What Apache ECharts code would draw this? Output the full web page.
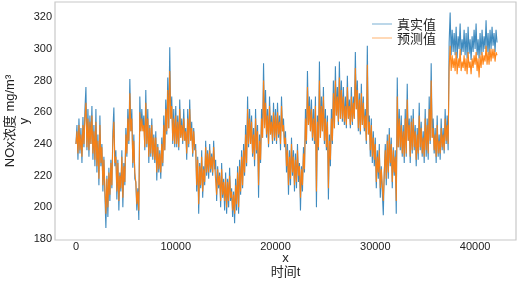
<!DOCTYPE html>
<html>
<head>
<meta charset="utf-8">
<script src="https://cdn.jsdelivr.net/npm/echarts@6/dist/echarts.min.js"></script>
<style>
  html, body { margin: 0; padding: 0; background: #fff; }
  #chart { width: 519px; height: 282px; }
</style>
</head>
<body>
<div id="chart"></div>
<script>
// sampled every 100 steps of time t
var step = 100;

var trueVals = [
  240, 252, 230, 256, 234, 250, 228, 257, 238, 262,
  276, 236, 262, 232, 258, 240, 264, 230, 252, 226,
  262, 222, 246, 214, 258, 226, 240, 210, 232, 208,
  187, 220, 194, 225, 204, 230, 212, 248, 263, 226,
  236, 205, 230, 198, 222, 210, 236, 200, 228, 214,
  250, 232, 262, 240, 281, 248, 262, 225, 246, 218,
  216, 198, 212, 192, 270, 248, 262, 250, 258, 236,
  274, 238, 262, 228, 252, 232, 256, 230, 246, 228,
  248, 217, 240, 222, 236, 218, 244, 226, 258, 236,
  268, 246, 282, 250, 301, 256, 270, 240, 262, 238,
  264, 238, 258, 236, 268, 244, 256, 240, 262, 242,
  250, 230, 262, 238, 268, 242, 254, 232, 250, 236,
  240, 210, 232, 196, 228, 212, 236, 206, 226, 214,
  242, 220, 236, 218, 240, 222, 234, 220, 242, 224,
  230, 204, 226, 212, 222, 200, 228, 206, 218, 198,
  222, 196, 218, 200, 225, 204, 212, 194, 210, 190,
  218, 198, 226, 196, 230, 208, 236, 212, 240, 220,
  252, 226, 270, 238, 262, 240, 258, 232, 250, 226,
  262, 234, 252, 206, 246, 228, 262, 244, 291, 252,
  274, 244, 262, 238, 270, 246, 258, 240, 266, 242,
  262, 240, 266, 244, 258, 236, 270, 248, 256, 238,
  248, 222, 240, 208, 236, 214, 244, 220, 236, 210,
  234, 212, 240, 216, 228, 198, 226, 210, 238, 222,
  262, 240, 286, 252, 270, 248, 268, 242, 262, 240,
  270, 200, 258, 236, 292, 244, 270, 248, 276, 240,
  262, 236, 258, 205, 246, 226, 262, 240, 280, 250,
  289, 258, 276, 252, 292, 256, 280, 254, 276, 252,
  270, 250, 283, 256, 268, 250, 276, 252, 270, 256,
  298, 262, 280, 248, 272, 246, 278, 252, 270, 248,
  262, 240, 302, 246, 258, 232, 256, 228, 248, 226,
  244, 212, 236, 218, 240, 206, 226, 210, 195, 222,
  240, 214, 246, 218, 250, 226, 244, 212, 238, 220,
  236, 196, 282, 238, 262, 236, 258, 232, 252, 228,
  262, 232, 278, 242, 256, 228, 258, 234, 262, 236,
  252, 226, 250, 230, 266, 236, 254, 232, 248, 228,
  262, 232, 256, 230, 270, 240, 291, 244, 256, 234,
  250, 228, 258, 232, 246, 230, 256, 236, 250, 234,
  262, 240, 258, 236, 304, 323, 296, 312, 298, 310,
  296, 314, 294, 308, 300, 316, 296, 306, 298, 312,
  296, 310, 294, 314, 297, 306, 293, 308, 298, 312,
  300, 316, 296, 306, 294, 310, 296, 312, 298, 308,
  300, 318, 298, 310, 296, 312, 300, 314, 302, 310,
  298, 312, 304
];

var predVals = [
  240, 248, 234, 252, 236, 246, 232, 252, 240, 256,
  266, 238, 256, 236, 254, 240, 258, 234, 248, 230,
  254, 226, 242, 218, 252, 228, 238, 214, 230, 212,
  196, 218, 200, 222, 208, 228, 214, 242, 254, 228,
  232, 210, 228, 204, 220, 212, 232, 206, 226, 216,
  246, 234, 256, 242, 272, 248, 256, 228, 242, 222,
  216, 202, 210, 198, 260, 248, 256, 248, 252, 238,
  266, 240, 256, 232, 250, 234, 252, 232, 244, 230,
  244, 222, 238, 224, 234, 222, 240, 228, 252, 236,
  262, 248, 274, 250, 286, 256, 264, 242, 256, 240,
  258, 240, 254, 238, 262, 244, 252, 242, 256, 242,
  248, 234, 256, 240, 262, 242, 250, 234, 248, 238,
  236, 214, 230, 202, 226, 214, 232, 210, 224, 216,
  238, 222, 234, 222, 236, 224, 232, 222, 238, 226,
  226, 208, 224, 214, 220, 204, 224, 208, 216, 204,
  218, 200, 216, 204, 220, 206, 210, 198, 208, 196,
  214, 202, 222, 200, 226, 210, 232, 214, 236, 222,
  246, 228, 262, 240, 256, 240, 254, 234, 246, 230,
  256, 236, 248, 214, 242, 230, 256, 244, 280, 250,
  266, 246, 258, 240, 264, 246, 254, 242, 260, 244,
  258, 242, 260, 246, 254, 240, 264, 248, 252, 240,
  244, 226, 236, 214, 232, 218, 240, 222, 232, 214,
  230, 216, 236, 220, 226, 206, 224, 214, 234, 224,
  256, 242, 276, 252, 264, 248, 262, 244, 256, 242,
  264, 210, 254, 238, 280, 244, 264, 248, 270, 242,
  256, 238, 254, 212, 242, 230, 256, 242, 272, 250,
  280, 258, 270, 254, 282, 256, 274, 256, 270, 254,
  264, 252, 276, 256, 264, 252, 270, 254, 266, 256,
  288, 262, 274, 250, 268, 248, 272, 252, 266, 250,
  258, 242, 290, 246, 254, 236, 252, 232, 244, 230,
  240, 216, 232, 222, 236, 212, 224, 214, 204, 222,
  236, 218, 242, 222, 246, 228, 240, 216, 236, 222,
  232, 204, 270, 238, 256, 238, 252, 234, 248, 232,
  256, 234, 268, 242, 252, 232, 254, 236, 256, 238,
  248, 230, 246, 234, 258, 238, 250, 234, 244, 232,
  256, 236, 252, 234, 262, 242, 280, 244, 250, 236,
  246, 232, 252, 234, 242, 234, 250, 238, 246, 236,
  256, 242, 252, 240, 288, 302, 286, 296, 288, 294,
  286, 298, 284, 294, 288, 300, 286, 292, 288, 296,
  286, 294, 284, 298, 288, 292, 284, 294, 288, 296,
  290, 298, 286, 294, 282, 296, 288, 298, 290, 296,
  292, 302, 290, 298, 290, 300, 292, 300, 294, 300,
  292, 298, 296
];

var seriesNames = ['真实值', '预测值'];

function toPairs(vals) {
  return vals.map(function (v, i) { return [i * step, v]; });
}

var chart = echarts.init(document.getElementById('chart'));
var font = '"Liberation Sans", "Noto Sans CJK SC", sans-serif';

chart.setOption({
  animation: false,
  textStyle: { fontFamily: font },
  grid: {
    left: 55, right: 3, top: 2, bottom: 42,
    containLabel: false,
    outerBoundsMode: 'none',
    show: true, borderColor: '#c8c8c8', borderWidth: 1.2
  },
  legend: {
    orient: 'vertical',
    right: 78, top: 12,
    icon: 'rect',
    itemWidth: 20, itemHeight: 1.5, itemGap: 0,
    itemStyle: { opacity: 0.4 },
    textStyle: { fontSize: 13, lineHeight: 14, color: '#222', fontFamily: '"Noto Sans CJK SC"' },
    data: seriesNames
  },
  xAxis: {
    type: 'value',
    min: -2100, max: 44100,
    splitNumber: 5,
    name: 'x\n时间t',
    nameLocation: 'middle',
    nameGap: 11,
    nameMoveOverlap: false,
    nameTextStyle: { fontSize: 13, color: '#222', lineHeight: 14, fontFamily: font },
    axisLine: { show: false },
    axisTick: { show: false },
    splitLine: { show: false },
    axisLabel: {
      fontSize: 11, color: '#222', margin: 1,
      formatter: function (v) { return v % 10000 === 0 ? String(v) : ''; }
    }
  },
  yAxis: {
    type: 'value',
    min: 179.4, max: 329.6,
    splitNumber: 7,
    name: 'NOx浓度 mg/m³\ny',
    nameLocation: 'middle',
    nameRotate: 90,
    nameGap: 24,
    nameMoveOverlap: false,
    nameTextStyle: { fontSize: 13, color: '#222', lineHeight: 14, fontFamily: font },
    axisLine: { show: false },
    axisTick: { show: false },
    splitLine: { show: false },
    axisLabel: {
      fontSize: 11, color: '#222', margin: 3,
      formatter: function (v) { return Math.abs(v % 20) < 1e-6 ? String(v) : ''; }
    }
  },
  series: [
    {
      name: seriesNames[0],
      type: 'line',
      data: toPairs(trueVals),
      symbol: 'none',
      color: '#1f77b4',
      lineStyle: { width: 1.1, color: '#1f77b4', opacity: 0.85 }
    },
    {
      name: seriesNames[1],
      type: 'line',
      data: toPairs(predVals),
      symbol: 'none',
      color: '#ff7f0e',
      lineStyle: { width: 1.1, color: '#ff7f0e', opacity: 0.95 }
    }
  ]
});
</script>
</body>
</html>
